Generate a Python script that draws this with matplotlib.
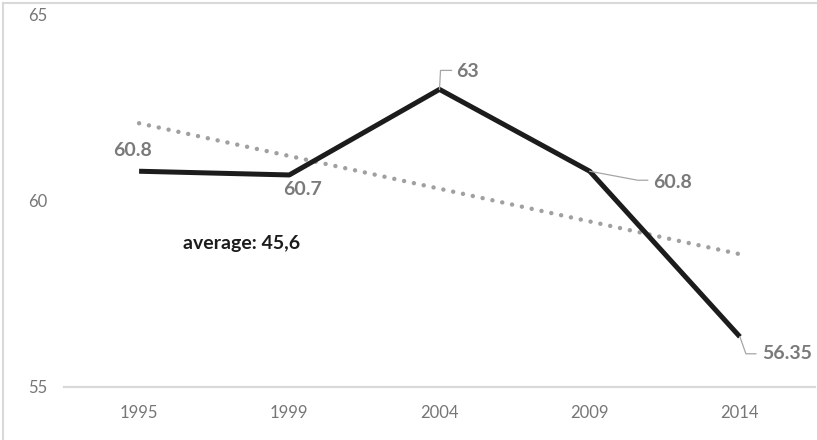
import matplotlib
matplotlib.use("Agg")
import matplotlib.pyplot as plt
from matplotlib.lines import Line2D
import numpy as np

# data
years = ["1995", "1999", "2004", "2009", "2014"]
values = [60.8, 60.7, 63, 60.8, 56.35]
value_labels = ["60.8", "60.7", "63", "60.8", "56.35"]
average_text = "average: 45,6"

plt.rcParams['font.family'] = ['Lato', 'DejaVu Sans']

fig = plt.figure(figsize=(8.17, 4.40), dpi=100)
ax = fig.add_axes([64 / 817, 1 - 387 / 440, 751 / 817, 372 / 440])

x = np.arange(len(years))
ax.plot(x, values, color="#1c1c1c", lw=3.6, solid_capstyle="butt", zorder=3)

# linear trendline
k, b = np.polyfit(x, values, 1)
ax.plot(x, k * x + b, color="#a0a0a0", lw=3.2, linestyle=(0, (0.01, 2.25)),
        dash_capstyle="round", zorder=2)

ax.set_xlim(-0.5, len(years) - 0.5)
ax.set_ylim(55, 65)
ax.set_yticks([55, 60, 65])
ax.set_xticks(x)
ax.set_xticklabels(years)
for s in ["top", "right", "left"]:
    ax.spines[s].set_visible(False)
ax.spines["bottom"].set_color("#d9d9d9")
ax.spines["bottom"].set_linewidth(1.6)
ax.tick_params(axis="both", length=0, labelsize=12, labelcolor="#767676")
ax.tick_params(axis="x", pad=13)
ax.tick_params(axis="y", pad=12)

lab_color = "#7a7a7a"
lab_kw = dict(fontsize=14, fontweight="bold", color=lab_color)

# label offsets in pixels (dx, dy up), alignment, leader vertices
layout = [
    ((-7, 21), "center", None),
    ((13, -15), "center", None),
    ((17, 18), "left", [(0, 0), (1, 19), (12, 19)]),
    ((63, -11), "left", [(0, 0), (48, -9), (58, -9)]),
    ((22, -17), "left", [(0, 0), (6, -17), (16, -17)]),
]

inv = ax.transData.inverted()
for i, (off, ha, leader) in enumerate(layout):
    px, py = ax.transData.transform((x[i], values[i]))
    ax.annotate(value_labels[i], (x[i], values[i]), xytext=off,
                textcoords="offset pixels", ha=ha, va="center", **lab_kw)
    if leader:
        pts = inv.transform([(px + dx, py + dy) for dx, dy in leader])
        ax.plot(pts[:, 0], pts[:, 1], color="#a6a6a6", lw=0.9, zorder=4)

ax.text(0.68, 58.87, average_text, ha="center", va="center",
        fontsize=14, fontweight="bold", color="#1c1c1c")

# chart area border (top and left visible)
fig.add_artist(Line2D([3.5 / 817, 1], [1 - 3.5 / 440, 1 - 3.5 / 440],
                      transform=fig.transFigure, color="#d9d9d9", lw=1.5))
fig.add_artist(Line2D([3.5 / 817, 3.5 / 817], [0, 1 - 3.5 / 440],
                      transform=fig.transFigure, color="#d9d9d9", lw=1.5))

fig.savefig("out.png", dpi=100)
